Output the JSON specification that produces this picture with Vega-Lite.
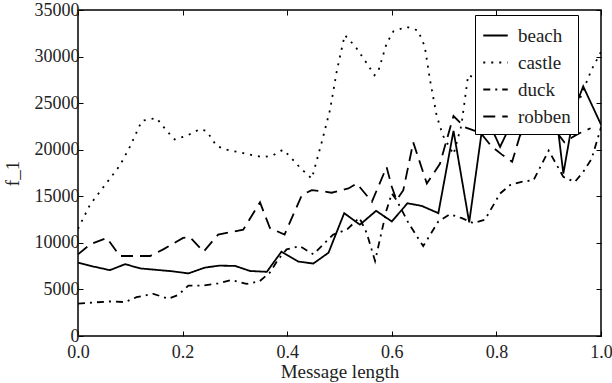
{
  "$schema": "https://vega.github.io/schema/vega-lite/v6.json",
  "width": 523,
  "height": 326,
  "autosize": "none",
  "padding": {"left": 78, "top": 10, "right": 11, "bottom": 47},
  "background": "white",
  "config": {
    "font": "Liberation Serif",
    "view": {"stroke": "black", "strokeWidth": 1.5},
    "axis": {"grid": false, "domain": false, "tickColor": "black", "tickSize": -5, "tickWidth": 1, "labelFlush": false, "labelOverlap": false, "labelFont": "Liberation Serif", "labelFontSize": 18, "labelColor": "#222", "titleFont": "Liberation Serif", "titleFontSize": 19, "titleFontWeight": "normal", "titleColor": "#222"}
  },
  "data": {"values": [
    {"s":"beach","x":0,"f":7880},{"s":"beach","x":0.03,"f":7450},{"s":"beach","x":0.061,"f":7070},{"s":"beach","x":0.09,"f":7710},{"s":"beach","x":0.12,"f":7250},{"s":"beach","x":0.15,"f":7100},{"s":"beach","x":0.18,"f":6950},{"s":"beach","x":0.211,"f":6720},{"s":"beach","x":0.243,"f":7350},{"s":"beach","x":0.27,"f":7550},{"s":"beach","x":0.3,"f":7530},{"s":"beach","x":0.329,"f":6980},{"s":"beach","x":0.361,"f":6890},{"s":"beach","x":0.389,"f":9050},{"s":"beach","x":0.421,"f":7990},{"s":"beach","x":0.45,"f":7780},{"s":"beach","x":0.479,"f":8940},{"s":"beach","x":0.509,"f":13190},{"s":"beach","x":0.539,"f":11950},{"s":"beach","x":0.57,"f":13440},{"s":"beach","x":0.6,"f":12300},{"s":"beach","x":0.63,"f":14250},{"s":"beach","x":0.657,"f":13970},{"s":"beach","x":0.689,"f":13190},{"s":"beach","x":0.718,"f":22030},{"s":"beach","x":0.748,"f":12200},{"s":"beach","x":0.777,"f":24000},{"s":"beach","x":0.807,"f":20300},{"s":"beach","x":0.83,"f":23000},{"s":"beach","x":0.86,"f":23500},{"s":"beach","x":0.89,"f":22500},{"s":"beach","x":0.915,"f":23500},{"s":"beach","x":0.928,"f":17430},{"s":"beach","x":0.95,"f":24500},{"s":"beach","x":0.966,"f":26800},{"s":"beach","x":1.0,"f":22700},
    {"s":"castle","x":0,"f":11500},{"s":"castle","x":0.023,"f":14100},{"s":"castle","x":0.042,"f":15500},{"s":"castle","x":0.061,"f":16900},{"s":"castle","x":0.08,"f":18300},{"s":"castle","x":0.1,"f":20400},{"s":"castle","x":0.122,"f":23100},{"s":"castle","x":0.15,"f":23400},{"s":"castle","x":0.17,"f":22000},{"s":"castle","x":0.185,"f":21100},{"s":"castle","x":0.208,"f":21500},{"s":"castle","x":0.233,"f":22200},{"s":"castle","x":0.246,"f":22000},{"s":"castle","x":0.265,"f":20400},{"s":"castle","x":0.284,"f":20000},{"s":"castle","x":0.31,"f":19700},{"s":"castle","x":0.335,"f":19400},{"s":"castle","x":0.354,"f":19200},{"s":"castle","x":0.373,"f":19400},{"s":"castle","x":0.392,"f":20000},{"s":"castle","x":0.405,"f":19300},{"s":"castle","x":0.424,"f":18100},{"s":"castle","x":0.447,"f":16900},{"s":"castle","x":0.466,"f":20800},{"s":"castle","x":0.482,"f":24300},{"s":"castle","x":0.495,"f":28500},{"s":"castle","x":0.51,"f":32300},{"s":"castle","x":0.53,"f":31100},{"s":"castle","x":0.552,"f":29300},{"s":"castle","x":0.567,"f":28000},{"s":"castle","x":0.574,"f":28400},{"s":"castle","x":0.59,"f":31400},{"s":"castle","x":0.603,"f":32700},{"s":"castle","x":0.628,"f":33200},{"s":"castle","x":0.65,"f":32800},{"s":"castle","x":0.663,"f":31100},{"s":"castle","x":0.673,"f":27500},{"s":"castle","x":0.686,"f":23600},{"s":"castle","x":0.698,"f":21500},{"s":"castle","x":0.718,"f":19500},{"s":"castle","x":0.733,"f":22600},{"s":"castle","x":0.746,"f":28000},{"s":"castle","x":0.77,"f":27500},{"s":"castle","x":0.8,"f":26500},{"s":"castle","x":0.85,"f":25000},{"s":"castle","x":0.9,"f":24500},{"s":"castle","x":0.95,"f":24000},{"s":"castle","x":0.966,"f":26400},{"s":"castle","x":0.982,"f":28600},{"s":"castle","x":1.0,"f":30500},
    {"s":"duck","x":0,"f":3470},{"s":"duck","x":0.03,"f":3600},{"s":"duck","x":0.061,"f":3710},{"s":"duck","x":0.09,"f":3640},{"s":"duck","x":0.112,"f":4170},{"s":"duck","x":0.144,"f":4530},{"s":"duck","x":0.173,"f":4000},{"s":"duck","x":0.192,"f":4420},{"s":"duck","x":0.211,"f":5410},{"s":"duck","x":0.24,"f":5410},{"s":"duck","x":0.268,"f":5650},{"s":"duck","x":0.294,"f":6010},{"s":"duck","x":0.322,"f":5590},{"s":"duck","x":0.347,"f":5870},{"s":"duck","x":0.367,"f":6820},{"s":"duck","x":0.383,"f":8240},{"s":"duck","x":0.399,"f":9300},{"s":"duck","x":0.424,"f":9650},{"s":"duck","x":0.45,"f":8770},{"s":"duck","x":0.469,"f":9830},{"s":"duck","x":0.488,"f":10890},{"s":"duck","x":0.514,"f":11420},{"s":"duck","x":0.538,"f":12700},{"s":"duck","x":0.552,"f":11060},{"s":"duck","x":0.568,"f":8060},{"s":"duck","x":0.59,"f":13540},{"s":"duck","x":0.6,"f":15300},{"s":"duck","x":0.609,"f":14600},{"s":"duck","x":0.632,"f":12120},{"s":"duck","x":0.66,"f":9650},{"s":"duck","x":0.689,"f":12300},{"s":"duck","x":0.711,"f":13080},{"s":"duck","x":0.734,"f":12650},{"s":"duck","x":0.756,"f":12120},{"s":"duck","x":0.778,"f":12480},{"s":"duck","x":0.807,"f":15300},{"s":"duck","x":0.826,"f":16200},{"s":"duck","x":0.848,"f":16550},{"s":"duck","x":0.871,"f":16730},{"s":"duck","x":0.9,"f":19900},{"s":"duck","x":0.928,"f":17080},{"s":"duck","x":0.95,"f":16550},{"s":"duck","x":0.966,"f":17610},{"s":"duck","x":0.982,"f":19020},{"s":"duck","x":1.0,"f":22400},
    {"s":"robben","x":0,"f":8770},{"s":"robben","x":0.023,"f":9830},{"s":"robben","x":0.055,"f":10530},{"s":"robben","x":0.08,"f":8590},{"s":"robben","x":0.11,"f":8590},{"s":"robben","x":0.138,"f":8590},{"s":"robben","x":0.163,"f":9300},{"s":"robben","x":0.201,"f":10530},{"s":"robben","x":0.214,"f":10610},{"s":"robben","x":0.24,"f":9050},{"s":"robben","x":0.268,"f":10890},{"s":"robben","x":0.316,"f":11420},{"s":"robben","x":0.348,"f":14350},{"s":"robben","x":0.367,"f":11590},{"s":"robben","x":0.395,"f":10890},{"s":"robben","x":0.428,"f":15130},{"s":"robben","x":0.447,"f":15660},{"s":"robben","x":0.475,"f":15480},{"s":"robben","x":0.485,"f":15380},{"s":"robben","x":0.517,"f":15840},{"s":"robben","x":0.533,"f":16370},{"s":"robben","x":0.562,"f":14420},{"s":"robben","x":0.59,"f":18140},{"s":"robben","x":0.6,"f":16020},{"s":"robben","x":0.609,"f":14600},{"s":"robben","x":0.622,"f":15660},{"s":"robben","x":0.641,"f":20790},{"s":"robben","x":0.667,"f":16370},{"s":"robben","x":0.692,"f":18490},{"s":"robben","x":0.718,"f":23620},{"s":"robben","x":0.74,"f":22400},{"s":"robben","x":0.77,"f":21800},{"s":"robben","x":0.79,"f":20400},{"s":"robben","x":0.81,"f":19500},{"s":"robben","x":0.83,"f":18700},{"s":"robben","x":0.845,"f":21500},{"s":"robben","x":0.875,"f":22300},{"s":"robben","x":0.9,"f":23000},{"s":"robben","x":0.93,"f":20800},{"s":"robben","x":0.956,"f":21700},{"s":"robben","x":0.98,"f":22300}
  ]},
  "layer": [
    {
      "mark": {"type": "line", "color": "black", "strokeWidth": 1.8, "clip": true},
      "encoding": {
        "x": {"field": "x", "type": "quantitative", "scale": {"domain": [0, 1], "nice": false, "zero": false}, "axis": {"title": "Message length", "values": [0, 0.2, 0.4, 0.6, 0.8, 1.0], "format": ".1f", "labelPadding": 12, "titlePadding": 1}},
        "y": {"field": "f", "type": "quantitative", "scale": {"domain": [0, 35000], "nice": false}, "axis": {"title": "f_1", "values": [0, 5000, 10000, 15000, 20000, 25000, 30000, 35000], "format": "d", "labelPadding": 4, "titlePadding": 12}},
        "strokeDash": {"field": "s", "type": "nominal", "scale": {"domain": ["beach", "castle", "duck", "robben"], "range": [[1, 0], [2, 6], [7, 5, 2, 5], [12, 7]]},
          "legend": {"title": null, "orient": "none", "legendX": 397, "legendY": 5, "strokeColor": "black", "fillColor": "white", "padding": 7, "symbolType": "stroke", "symbolStrokeColor": "black", "symbolStrokeWidth": 2, "symbolSize": 600, "labelFontSize": 19, "labelFont": "Liberation Serif", "labelColor": "#222", "labelOffset": 9, "rowPadding": 3, "cornerRadius": 0}}
      }
    },
    {
      "mark": {"type": "rule", "opacity": 0},
      "encoding": {
        "x": {"datum": 0, "type": "quantitative", "axis": {"orient": "top", "labels": false, "title": null, "values": [0, 0.2, 0.4, 0.6, 0.8, 1.0]}},
        "y": {"datum": 0, "type": "quantitative", "axis": {"orient": "right", "labels": false, "title": null, "values": [0, 5000, 10000, 15000, 20000, 25000, 30000, 35000]}}
      }
    }
  ],
  "resolve": {"axis": {"x": "independent", "y": "independent"}}
}
